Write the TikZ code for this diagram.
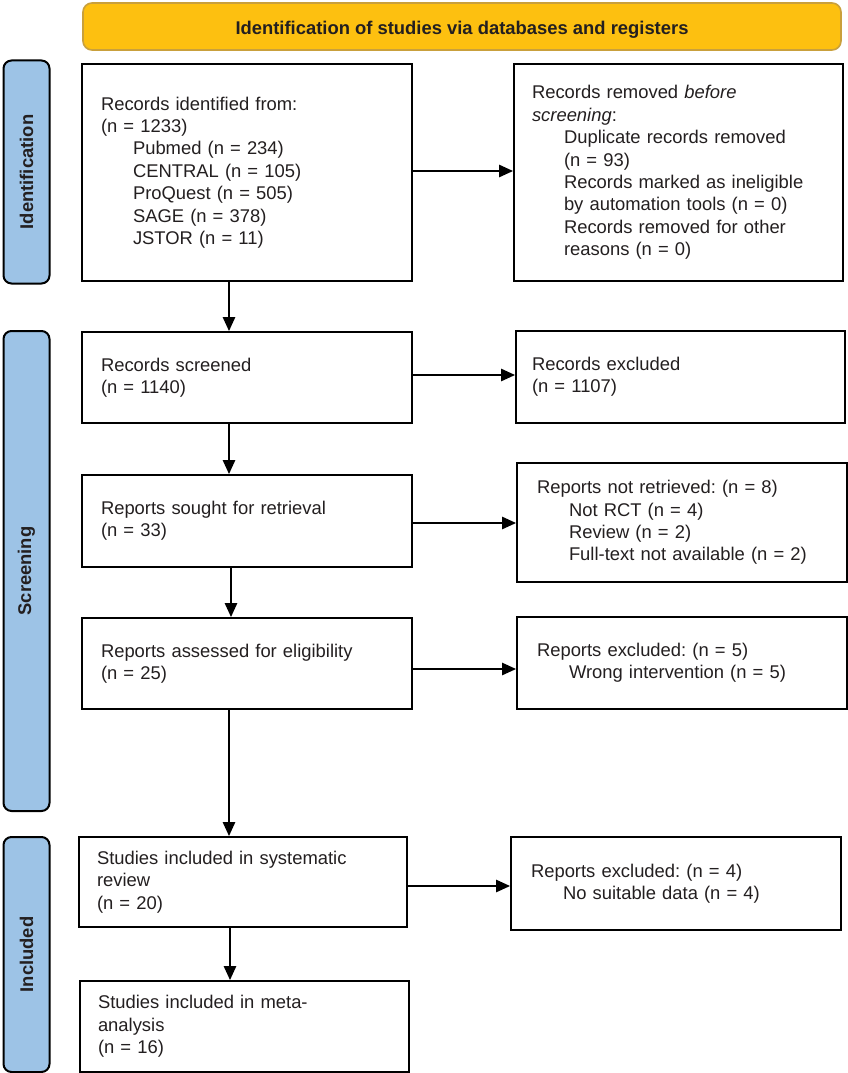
\documentclass[tikz,border=0pt]{standalone}
\usepackage{fontspec}
\setmainfont{Liberation Sans}
\usetikzlibrary{arrows.meta,calc}
\definecolor{bannerfill}{HTML}{FDC010}
\definecolor{bannerline}{HTML}{C9A03C}
\definecolor{sidefill}{HTML}{9DC3E6}
\definecolor{txt}{HTML}{231F20}
\newcommand\fsz{\fontsize{18.4}{22.4}\selectfont}
\newcommand\ind{\hspace*{32pt}}
\frenchspacing
\tikzset{
  box/.style={draw=black, line width=2pt, rectangle, align=left, inner xsep=19pt, inner ysep=0pt, font=\fsz, text=txt},
  banner/.style={draw=bannerline, line width=1.6pt, fill=bannerfill, rounded corners=9pt, inner sep=0pt},
  bannertext/.style={font=\fsz\bfseries, text=txt, inner sep=0pt},
  side/.style={draw=black, line width=2pt, fill=sidefill, rounded corners=8pt, rotate=90, font=\fsz\bfseries, text=txt, inner sep=0pt, minimum height=46pt},
  arr/.style={line width=1.3pt, -{Triangle[length=14pt,width=12.5pt]}},
}
\begin{document}
\begin{tikzpicture}[x=1pt,y=-1pt]
\useasboundingbox[fill=white] (0,0) rectangle (848,1073);

\node[banner, minimum width=758pt, minimum height=47pt] (top) at (462,26.5) {};
\node[bannertext, yshift=-3pt] (toptext) at (top.center) {Identification of studies via databases and registers};

\node[side, minimum width=223pt] (sid) at (26.5,172) {Identification};
\node[side, minimum width=480pt] (sscr) at (26.5,571) {Screening};
\node[side, minimum width=235pt] (sinc) at (26.5,954.5) {Included};

\node[box, minimum width=330pt, minimum height=217pt, text width=292pt] (b1) at (247,172.5)
 {Records identified from:\\(n = 1233)\\\ind Pubmed (n = 234)\\\ind CENTRAL (n = 105)\\\ind ProQuest (n = 505)\\\ind SAGE (n = 378)\\\ind JSTOR (n = 11)};
\node[box, minimum width=329pt, minimum height=217pt, text width=293pt, inner xsep=18pt] (b2) at (678.5,172.5)
 {Records removed \textit{before}\\\textit{screening}:\\\ind Duplicate records removed\\\ind (n = 93)\\\ind Records marked as ineligible\\\ind by automation tools (n = 0)\\\ind Records removed for other\\\ind reasons (n = 0)};

\node[box, minimum width=330pt, minimum height=91pt, text width=292pt] (b3) at (247,377.5)
 {Records screened\\(n = 1140)};
\node[box, minimum width=329pt, minimum height=92pt, text width=297pt, inner xsep=16pt] (b4) at (680.5,377)
 {Records excluded\\(n = 1107)};

\node[box, minimum width=330pt, minimum height=92pt, text width=292pt] (b5) at (247,521)
 {Reports sought for retrieval\\(n = 33)};
\node[box, minimum width=330pt, minimum height=119pt, text width=290pt, inner xsep=20pt] (b6) at (682,522.5)
 {Reports not retrieved: (n = 8)\\\ind Not RCT (n = 4)\\\ind Review (n = 2)\\\ind Full-text not available (n = 2)};

\node[box, minimum width=330pt, minimum height=91pt, text width=292pt] (b7) at (247,663.5)
 {Reports assessed for eligibility\\(n = 25)};
\node[box, minimum width=330pt, minimum height=92pt, text width=290pt, inner xsep=20pt] (b8) at (682,663)
 {Reports excluded: (n = 5)\\\ind Wrong intervention (n = 5)};

\node[box, minimum width=328pt, minimum height=90pt, text width=292pt, inner xsep=18pt] (b9) at (243,882)
 {Studies included in systematic\\review\\(n = 20)};
\node[box, minimum width=330pt, minimum height=93pt, text width=290pt, inner xsep=20pt] (b11) at (676,883.5)
 {Reports excluded: (n = 4)\\\ind No suitable data (n = 4)};

\node[box, minimum width=329pt, minimum height=91pt, text width=293pt, inner xsep=18pt] (b10) at (244.5,1026.5)
 {Studies included in meta-\\analysis\\(n = 16)};

% horizontal arrows
\draw[arr] ([yshift=1.5pt]b1.east) -- ([yshift=1.5pt]b1.east -| b2.west);
\draw[arr] ([yshift=2.5pt]b3.east) -- ([yshift=2.5pt]b3.east -| b4.west);
\draw[arr] ([yshift=-2pt]b5.east) -- ([yshift=-2pt]b5.east -| b6.west);
\draw[arr] ([yshift=-5.5pt]b7.east) -- ([yshift=-5.5pt]b7.east -| b8.west);
\draw[arr] ([yshift=-4pt]b9.east) -- ([yshift=-4pt]b9.east -| b11.west);

% vertical arrows
\draw[arr] ([xshift=-18pt]b1.south) -- ([xshift=-18pt]b1.south |- b3.north);
\draw[arr] ([xshift=-18pt]b3.south) -- ([xshift=-18pt]b3.south |- b5.north);
\draw[arr] ([xshift=-16pt]b5.south) -- ([xshift=-16pt]b5.south |- b7.north);
\draw[arr] ([xshift=-18pt]b7.south) -- ([xshift=-18pt]b7.south |- b9.north);
\draw[arr] ([xshift=-13pt]b9.south) -- ([xshift=-13pt]b9.south |- b10.north);
\end{tikzpicture}
\end{document}
